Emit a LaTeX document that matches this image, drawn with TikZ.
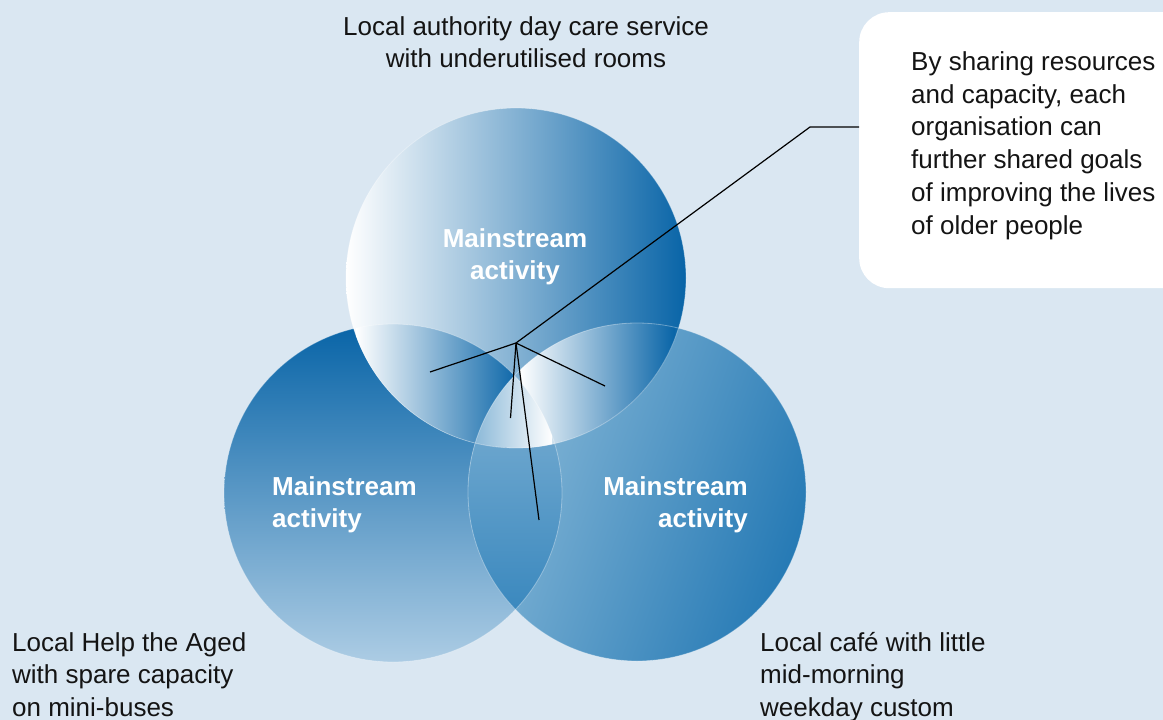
\documentclass[tikz,border=0pt]{standalone}
\usepackage{fontspec}
\setmainfont{Liberation Sans}
\definecolor{bgblue}{RGB}{218,231,242}
\definecolor{deepblue}{RGB}{8,100,167}
\definecolor{paleblue}{RGB}{172,204,228}
\definecolor{lensblue}{RGB}{125,176,211}
\definecolor{lensdeep}{RGB}{58,136,190}
\definecolor{rlight}{RGB}{140,187,217}
\definecolor{rdark}{RGB}{38,122,181}
\definecolor{inktext}{RGB}{20,20,20}
\begin{document}
\begin{tikzpicture}[x=1pt,y=-1pt,
  lbl/.style={font=\fontsize{26}{32.5}\selectfont, text=inktext, inner sep=0pt},
  mainlbl/.style={font=\fontsize{26}{32.5}\selectfont\bfseries, text=white, inner sep=0pt},
  leader/.style={draw=black, line width=1.2pt},
  rim/.style={draw=white, draw opacity=0.35, line width=0.8pt}]
\fill[bgblue] (0,0) rectangle (1163,720);
\useasboundingbox (0,0) rectangle (1163,720);

% callout box
\node[fill=white, rounded corners=30pt, minimum width=340pt, minimum height=276pt, anchor=north west, inner sep=0pt] (note) at (859,12) {};

% left circle
\shade[top color=deepblue, bottom color=paleblue] (393,493) circle[radius=169];
% right circle
\shade[top color=rlight, bottom color=rdark, shading angle=70] (637,492) circle[radius=169];
% lens left & right
\begin{scope}
\clip (393,493) circle[radius=169];
\clip (637,492) circle[radius=169];
\shade[top color=lensblue, bottom color=lensdeep] (460,376) rectangle (570,612);
\end{scope}
% top circle
\shade[left color=white, right color=deepblue] (516,278) circle[radius=170];
% top & left
\begin{scope}
\clip (516,278) circle[radius=170];
\clip (393,493) circle[radius=169];
\shade[left color=white, right color=deepblue] (356,300) rectangle (520,460);
\end{scope}
% top & right
\begin{scope}
\clip (516,278) circle[radius=170];
\clip (637,492) circle[radius=169];
\shade[left color=white, right color=deepblue] (520,300) rectangle (675,460);
\end{scope}
% triple
\begin{scope}
\clip (516,278) circle[radius=170];
\clip (393,493) circle[radius=169];
\clip (637,492) circle[radius=169];
\shade[left color=lensblue, right color=white] (465,370) rectangle (552,452);
\end{scope}
% rims
\draw[rim] (393,493) circle[radius=169];
\draw[rim] (637,492) circle[radius=169];
\draw[rim] (516,278) circle[radius=170];

% leader lines
\coordinate (hub) at (516,343);
\coordinate (bend) at (810,127);
\coordinate (spokeA) at (430,372);
\coordinate (spokeB) at (605,386);
\coordinate (spokeC) at (510.5,418);
\coordinate (spokeD) at (539,520);
\draw[leader] (note.west |- bend) -- (bend) -- (hub);
\draw[leader] (hub) -- (spokeA);
\draw[leader] (hub) -- (spokeB);
\draw[leader] (hub) -- (spokeC);
\draw[leader] (hub) -- (spokeD);

% texts
\node[lbl, anchor=base] (topcap) at (526,35) {\begin{tabular}[t]{@{}c@{}}Local authority day care service\\with underutilised rooms\end{tabular}};
\node[lbl, anchor=base west] (notetext) at (911,70) {\fontsize{26}{33}\selectfont\begin{tabular}[t]{@{}l@{}}By sharing resources\\and capacity, each\\organisation can\\further shared goals\\of improving the lives\\of older people\end{tabular}};
\node[lbl, anchor=base west] (helpaged) at (12,651) {\begin{tabular}[t]{@{}l@{}}Local Help the Aged\\with spare capacity\\on mini-buses\end{tabular}};
\node[lbl, anchor=base west] (cafe) at (760,651) {\begin{tabular}[t]{@{}l@{}}Local café with little\\mid-morning\\weekday custom\end{tabular}};
\node[mainlbl, anchor=base] (mtop) at (515,247) {\begin{tabular}[t]{@{}c@{}}Mainstream\\activity\end{tabular}};
\node[mainlbl, anchor=base west] (mleft) at (272,495) {\begin{tabular}[t]{@{}l@{}}Mainstream\\activity\end{tabular}};
\node[mainlbl, anchor=base east] (mright) at (748,495) {\begin{tabular}[t]{@{}r@{}}Mainstream\\activity\end{tabular}};
\end{tikzpicture}
\end{document}
